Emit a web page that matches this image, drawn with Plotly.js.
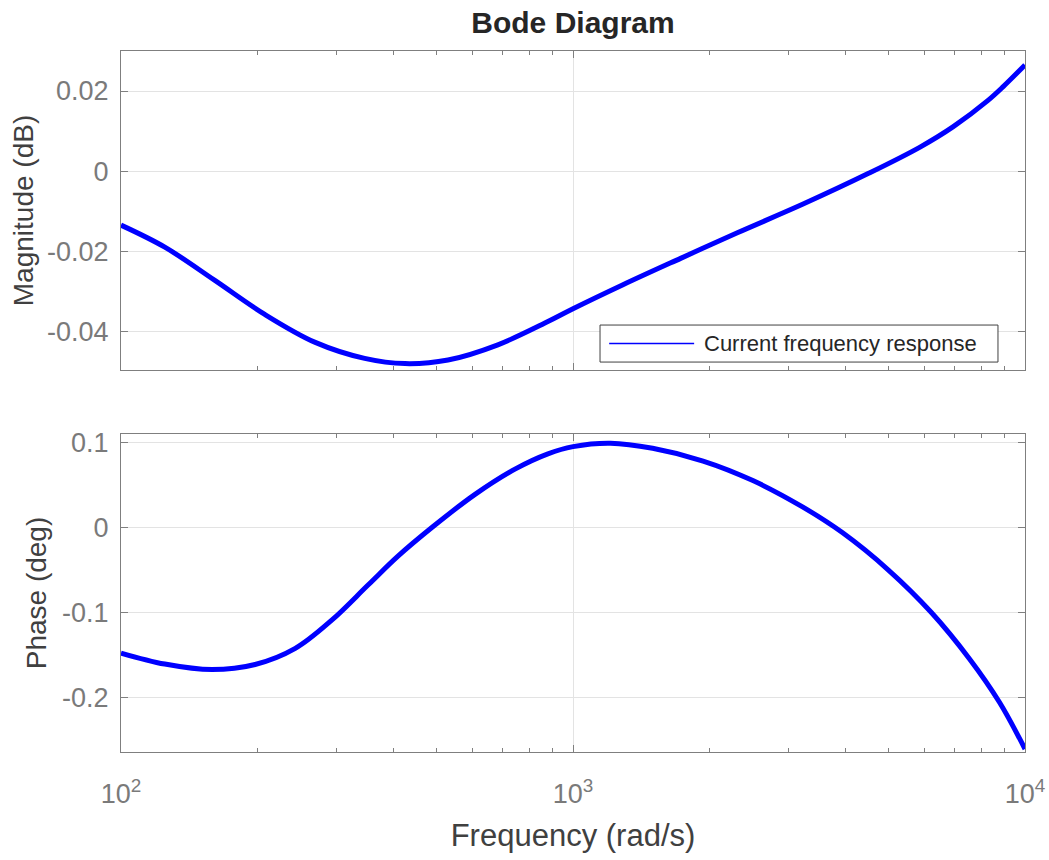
<!DOCTYPE html>
<html>
<head>
<meta charset="utf-8">
<script src="https://cdn.plot.ly/plotly-3.0.1.min.js"></script>
<style>
  html, body { margin: 0; padding: 0; background: #ffffff; }
  #bode { width: 1049px; height: 860px; }
</style>
</head>
<body>
<div id="bode"></div>
<script>
// Frequency response samples (rad/s)
const magFreq = [100, 125, 161, 208, 269, 346, 425, 529, 682, 880, 1000, 1290, 1730, 2310, 3220, 4520, 5860, 6940, 8270, 8950, 10000];
const magDb = [-0.0135, -0.0190, -0.02725, -0.0358, -0.0428, -0.0468, -0.0481, -0.0472, -0.0434, -0.0376, -0.0344, -0.0284, -0.0218, -0.0154, -0.0083, -0.0005, 0.0060, 0.0111, 0.0176, 0.0211, 0.0265];

const phaseFreq = [100, 125, 159, 198, 243, 293, 352, 410, 488, 606, 744, 880, 1000, 1210, 1500, 1940, 2500, 3220, 3950, 4980, 6200, 7540, 8780, 10000];
const phaseDeg = [-0.148, -0.161, -0.1675, -0.1615, -0.1425, -0.109, -0.068, -0.034, 0.000, 0.0385, 0.0685, 0.0865, 0.095, 0.099, 0.093, 0.078, 0.055, 0.024, -0.0065, -0.050, -0.100, -0.155, -0.206, -0.261];

// Tick labels
const freqTicks = [100, 1000, 10000];
const freqTickText = ['10<sup>2</sup>', '10<sup>3</sup>', '10<sup>4</sup>'];
const freqMinor = [200, 300, 400, 500, 600, 700, 800, 900, 2000, 3000, 4000, 5000, 6000, 7000, 8000, 9000];
const magTicks = [-0.04, -0.02, 0, 0.02];
const magTickText = ['-0.04', '-0.02', '0', '0.02'];
const phaseTicks = [-0.2, -0.1, 0, 0.1];
const phaseTickText = ['-0.2', '-0.1', '0', '0.1'];

const legendLabel = 'Current frequency response';

const FONT = 'Liberation Sans, Arial, Helvetica, sans-serif';
const AXIS_GRAY = '#7f7f7f';
const TICK_GRAY = '#7a7a7a';
const LABEL_GRAY = '#404040';
const GRID = '#e3e3e3';

const curveLine = { color: '#0000ff', width: 5, shape: 'spline', smoothing: 1 };

const traces = [
  {
    x: magFreq, y: magDb, xaxis: 'x', yaxis: 'y',
    type: 'scatter', mode: 'lines', name: legendLabel,
    line: curveLine, showlegend: false, hoverinfo: 'x+y'
  },
  {
    x: phaseFreq, y: phaseDeg, xaxis: 'x2', yaxis: 'y2',
    type: 'scatter', mode: 'lines', name: legendLabel,
    line: curveLine, showlegend: false, hoverinfo: 'x+y'
  }
];

function minorTicks() {
  return {
    tickmode: 'array',
    tickvals: freqMinor,
    ticks: 'inside',
    ticklen: 4,
    tickcolor: AXIS_GRAY,
    showgrid: false
  };
}

function xAxis(extra) {
  return Object.assign({
    type: 'log',
    range: [2, 4],
    tickmode: 'array',
    tickvals: freqTicks,
    ticktext: freqTickText,
    ticks: 'inside',
    ticklen: 7,
    tickwidth: 1,
    tickcolor: AXIS_GRAY,
    showline: true,
    linecolor: AXIS_GRAY,
    linewidth: 1,
    mirror: 'ticks',
    showgrid: true,
    gridcolor: GRID,
    gridwidth: 1,
    zeroline: false,
    minor: minorTicks(),
    tickfont: { family: FONT, size: 27, color: TICK_GRAY }
  }, extra);
}

// Tick-only axis along the top edge of a panel
function topTickAxis(anchor) {
  return {
    type: 'log',
    range: [2, 4],
    overlaying: 'x',
    matches: 'x',
    anchor: anchor,
    side: 'top',
    tickmode: 'array',
    tickvals: freqTicks,
    ticks: 'inside',
    ticklen: 7,
    tickcolor: AXIS_GRAY,
    showticklabels: false,
    showline: false,
    showgrid: false,
    zeroline: false,
    minor: minorTicks()
  };
}

function yAxis(extra) {
  return Object.assign({
    tickmode: 'array',
    ticks: 'inside',
    ticklen: 7,
    tickwidth: 1,
    tickcolor: AXIS_GRAY,
    showline: true,
    linecolor: AXIS_GRAY,
    linewidth: 1,
    mirror: 'ticks',
    showgrid: true,
    gridcolor: GRID,
    gridwidth: 1,
    zeroline: false,
    ticklabelstandoff: 6,
    tickfont: { family: FONT, size: 27, color: TICK_GRAY }
  }, extra);
}

const layout = {
  width: 1049,
  height: 860,
  paper_bgcolor: '#ffffff',
  plot_bgcolor: '#ffffff',
  margin: { l: 121, r: 24, t: 51, b: 108 },
  showlegend: false,
  title: {
    text: '<b>Bode Diagram</b>',
    font: { family: FONT, size: 30, color: '#262626' },
    xref: 'paper', x: 0.5, xanchor: 'center',
    yref: 'container', y: 1 - 22 / 860, yanchor: 'middle'
  },
  xaxis: xAxis({ anchor: 'y', showticklabels: false }),
  xaxis2: xAxis({
    anchor: 'y2', matches: 'x',
    ticklabelstandoff: 18,
    title: { text: 'Frequency (rad/s)', font: { family: FONT, size: 31, color: LABEL_GRAY }, standoff: 15 }
  }),
  xaxis3: topTickAxis('y'),
  xaxis4: topTickAxis('y2'),
  yaxis: yAxis({
    domain: [0.5449, 1],
    range: [-0.0497, 0.030],
    tickvals: magTicks,
    ticktext: magTickText,
    title: { text: 'Magnitude (dB)', font: { family: FONT, size: 28, color: LABEL_GRAY }, standoff: 5 }
  }),
  yaxis2: yAxis({
    domain: [0, 0.4536],
    range: [-0.2645, 0.1098],
    tickvals: phaseTicks,
    ticktext: phaseTickText,
    title: { text: 'Phase (deg)', font: { family: FONT, size: 28, color: LABEL_GRAY }, standoff: 7 }
  }),
  // Legend box for the magnitude panel
  shapes: [
    {
      type: 'rect', xref: 'x domain', yref: 'y domain',
      x0: 0.5299, x1: 0.9701, y0: 0.025, y1: 0.141,
      fillcolor: '#ffffff', line: { color: '#404040', width: 1 }, layer: 'above'
    },
    {
      type: 'line', xref: 'x domain', yref: 'y domain',
      x0: 0.540, x1: 0.634, y0: 0.083, y1: 0.083,
      line: { color: '#0000ff', width: 1.5 }, layer: 'above'
    }
  ],
  annotations: [
    {
      text: legendLabel, xref: 'x domain', yref: 'y domain',
      x: 0.6427, y: 0.083, xanchor: 'left', yanchor: 'middle',
      showarrow: false, font: { family: FONT, size: 22, color: '#262626' }
    }
  ]
};

Plotly.newPlot('bode', traces, layout, { displayModeBar: false, staticPlot: true });
</script>
</body>
</html>
